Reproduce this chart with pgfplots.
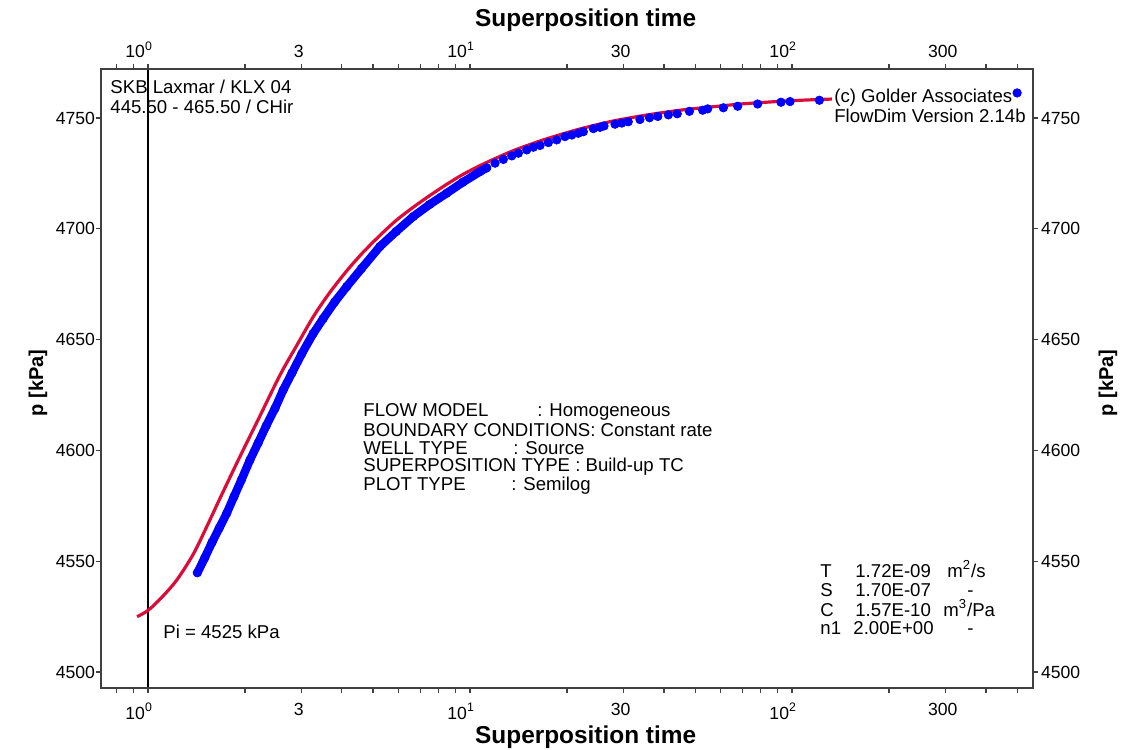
\documentclass[border=0pt]{standalone}
\usepackage{fontspec}
\setmainfont{Liberation Sans}
\usepackage{pgfplots}
\pgfplotsset{compat=1.18}
\definecolor{fitred}{RGB}{218,12,58}
\definecolor{datablue}{RGB}{0,0,255}
\newcommand{\tf}{\fontsize{9.3}{11}\selectfont}
\begin{document}
\begin{tikzpicture}
\path[use as bounding box] (-50.5pt,-30.5pt) rectangle (513.5pt,344pt);
\begin{axis}[
  scale only axis, width=466pt, height=309.5pt,
  xmode=log, log basis x=10,
  xmin=0.7145, xmax=560.2, ymin=4492.8, ymax=4772.1,
  axis line style={black!75, line width=0.7pt},
  tick style={black!75, line width=0.6pt},
  tick align=outside, major tick length=2.5pt, minor tick length=2.5pt,
  xtick={1,3,10,30,100,300},
  minor xtick={0.8,0.9,2,4,5,6,7,8,9,20,40,50,60,70,80,90,200,400,500},
  xticklabels={{\llap{10}\rlap{\textsuperscript{0}}},3,{\llap{10}\rlap{\textsuperscript{1}}},30,{\llap{10}\rlap{\textsuperscript{2}}},300},
  xticklabel style={xshift=-1.5pt, yshift=-1.5pt},
  ytick={4500,4550,4600,4650,4700,4750},
  yticklabels={4500,4550,4600,4650,4700,4750},
  yticklabel style={xshift=3pt},
  tick label style={font=\fontsize{8.8}{10}\selectfont},
  xtick pos=both, ytick pos=both,
  xticklabel pos=lower, yticklabel pos=left,
  xlabel={Superposition time},
  xlabel style={at={(axis description cs:0.520,-0.0792)}, anchor=center, font=\bfseries\fontsize{12.2}{14}\selectfont},
  ylabel={p [kPa]},
  ylabel style={at={(axis description cs:-0.0676,0.493)}, anchor=center, font=\bfseries\fontsize{10}{12}\selectfont},
]
\addplot[black, line width=0.9pt] coordinates {(1,4492.8) (1,4772.1)};
\addplot[fitred, line width=1.6pt, smooth] coordinates {
(0.925,4525) (1.0,4527.8) (1.1,4533.5) (1.228,4541.5) (1.38,4553) (1.521,4565.5)
(1.7,4580.5) (1.93,4597.2) (2.2,4614) (2.57,4634) (2.9,4647.5) (3.26,4660.3)
(3.65,4670.8) (4.14,4681) (4.65,4689.3) (5.25,4697) (5.9,4703.8) (6.66,4709.7)
(7.5,4715) (8.45,4720) (9.5,4724.5) (10.74,4728.5) (12.1,4732) (13.6,4735.2)
(15.4,4738.1) (17.3,4740.6) (21.9,4745) (27.8,4748.6) (35.3,4751.3) (44.9,4753.5)
(58,4755.2) (72.1,4756.5) (100,4757.8) (131,4758.5) (200,4759.3) (300,4759.9) (500,4760.5)
};
\addplot[datablue, line width=4.2pt, line cap=round, line join=round] coordinates {
(1.423,4544.8) (1.5,4551.5) (1.58,4558.5) (1.665,4565) (1.755,4571.6) (1.85,4579.2)
(1.95,4586.7) (2.073,4595.7) (2.2,4603.5) (2.33,4611.2) (2.48,4619) (2.63,4627.3)
(2.8,4635) (3.0,4643.5) (3.26,4652.8) (3.5,4659.5) (3.8,4667) (4.14,4673.9)
(4.6,4682) (5.25,4692) (5.9,4698.8) (6.66,4705.5) (7.5,4711) (8.45,4716)
(9.5,4721) (10.74,4725.8) (11.27,4727.5)
};
\addplot[only marks, mark=*, mark size=2.1pt, mark options={draw=datablue, fill=datablue}] coordinates {
(1.423,4544.8) (1.5,4551.5) (1.58,4558.5) (1.665,4565) (1.755,4571.6) (1.85,4579.2)
(1.95,4586.7) (2.073,4595.7) (2.2,4603.5) (2.33,4611.2) (2.48,4619) (2.63,4627.3)
(2.8,4635) (3.0,4643.5) (3.26,4652.8) (3.5,4659.5) (3.8,4667) (4.14,4673.9)
(4.6,4682) (5.25,4692) (5.9,4698.8) (6.66,4705.5) (7.5,4711) (8.45,4716)
(9.5,4721) (10.74,4725.8)
(11.27,4727.5) (11.96,4729.6) (12.69,4731.3) (13.48,4732.9) (14.13,4734.1) (15.0,4735.6)
(15.73,4736.8) (16.5,4737.6) (17.51,4738.9) (18.59,4740.1) (19.72,4741.6) (20.7,4742.3)
(21.69,4743.1) (22.49,4743.8) (24.15,4745.2) (25.33,4745.8) (26.07,4746.4) (28.2,4747.2)
(29.6,4747.7) (31.0,4748.3) (33.7,4749.3) (36.1,4750.1) (38.3,4750.7) (41.3,4751.4)
(44.0,4751.9) (48.0,4753.0) (52.8,4753.5) (54.7,4754.1) (61.2,4754.6) (67.8,4755.3)
(78.2,4756.3) (92.4,4757.1) (98.6,4757.4) (121.6,4758.0) (500,4761.3)
};
\node[anchor=base west, inner sep=0pt, font=\tf] at (rel axis cs:0.0097,0.9612) {SKB Laxmar / KLX 04};
\node[anchor=base west, inner sep=0pt, font=\tf] at (rel axis cs:0.0097,0.9289) {445.50 - 465.50 / CHir};
\node[anchor=base west, inner sep=1pt, fill=white, font=\tf] at (rel axis cs:0.7843,0.9451) {(c) Golder Associates};
\node[anchor=base west, inner sep=1pt, fill=white, font=\tf] at (rel axis cs:0.7843,0.9128) {FlowDim Version 2.14b};
\node[anchor=base west, inner sep=0pt, font=\tf] at (rel axis cs:0.2811,0.4378) {FLOW MODEL};
\node[anchor=base west, inner sep=0pt, font=\tf] at (rel axis cs:0.4678,0.4378) {: Homogeneous};
\node[anchor=base west, inner sep=0pt, font=\tf] at (rel axis cs:0.2811,0.4071) {BOUNDARY CONDITIONS: Constant rate};
\node[anchor=base west, inner sep=0pt, font=\tf] at (rel axis cs:0.2811,0.3780) {WELL TYPE};
\node[anchor=base west, inner sep=0pt, font=\tf] at (rel axis cs:0.4421,0.3780) {: Source};
\node[anchor=base west, inner sep=0pt, font=\tf] at (rel axis cs:0.2811,0.3490) {SUPERPOSITION TYPE : Build-up TC};
\node[anchor=base west, inner sep=0pt, font=\tf] at (rel axis cs:0.2811,0.3183) {PLOT TYPE};
\node[anchor=base west, inner sep=0pt, font=\tf] at (rel axis cs:0.4399,0.3183) {: Semilog};
\node[anchor=base west, inner sep=0pt, font=\tf] at (rel axis cs:0.7715,0.1793) {T};
\node[anchor=base west, inner sep=0pt, font=\tf] at (rel axis cs:0.8090,0.1793) {1.72E-09};
\node[anchor=base west, inner sep=0pt, font=\tf] at (rel axis cs:0.9077,0.1793) {m\textsuperscript{2}/s};
\node[anchor=base west, inner sep=0pt, font=\tf] at (rel axis cs:0.7715,0.1486) {S};
\node[anchor=base west, inner sep=0pt, font=\tf] at (rel axis cs:0.8090,0.1486) {1.70E-07};
\node[anchor=base west, inner sep=0pt, font=\tf] at (rel axis cs:0.9292,0.1486) {-};
\node[anchor=base west, inner sep=0pt, font=\tf] at (rel axis cs:0.7715,0.1163) {C};
\node[anchor=base west, inner sep=0pt, font=\tf] at (rel axis cs:0.8090,0.1163) {1.57E-10};
\node[anchor=base west, inner sep=0pt, font=\tf] at (rel axis cs:0.9034,0.1163) {m\textsuperscript{3}/Pa};
\node[anchor=base west, inner sep=0pt, font=\tf] at (rel axis cs:0.7715,0.0872) {n1};
\node[anchor=base west, inner sep=0pt, font=\tf] at (rel axis cs:0.8069,0.0872) {2.00E+00};
\node[anchor=base west, inner sep=0pt, font=\tf] at (rel axis cs:0.9292,0.0872) {-};
\node[anchor=base west, inner sep=0pt, font=\tf] at (rel axis cs:0.0665,0.0792) {Pi = 4525 kPa};
\end{axis}
\begin{axis}[
  scale only axis, width=466pt, height=309.5pt,
  xmode=log, log basis x=10,
  xmin=0.7145, xmax=560.2, ymin=4492.8, ymax=4772.1,
  axis line style={black!75, line width=0.7pt},
  tick style={black!75, line width=0.6pt},
  tick align=outside, major tick length=2.5pt, minor tick length=2.5pt,
  xtick={1,3,10,30,100,300},
  minor xtick={0.8,0.9,2,4,5,6,7,8,9,20,40,50,60,70,80,90,200,400,500},
  xticklabels={{\llap{10}\rlap{\textsuperscript{0}}},3,{\llap{10}\rlap{\textsuperscript{1}}},30,{\llap{10}\rlap{\textsuperscript{2}}},300},
  xticklabel style={xshift=-1.5pt, yshift=-0.5pt},
  ytick={4500,4550,4600,4650,4700,4750},
  yticklabels={4500,4550,4600,4650,4700,4750},
  yticklabel style={xshift=-2pt},
  tick label style={font=\fontsize{8.8}{10}\selectfont},
  xtick pos=both, ytick pos=both,
  xticklabel pos=upper, yticklabel pos=right,
  xlabel={Superposition time},
  xlabel style={at={(axis description cs:0.520,1.0792)}, anchor=center, font=\bfseries\fontsize{12.2}{14}\selectfont},
  ylabel={p [kPa]},
  ylabel style={at={(axis description cs:1.0805,0.493)}, anchor=center, font=\bfseries\fontsize{10}{12}\selectfont},
]
\addplot[draw=none] coordinates {(1,4600)};
\end{axis}
\end{tikzpicture}
\end{document}
